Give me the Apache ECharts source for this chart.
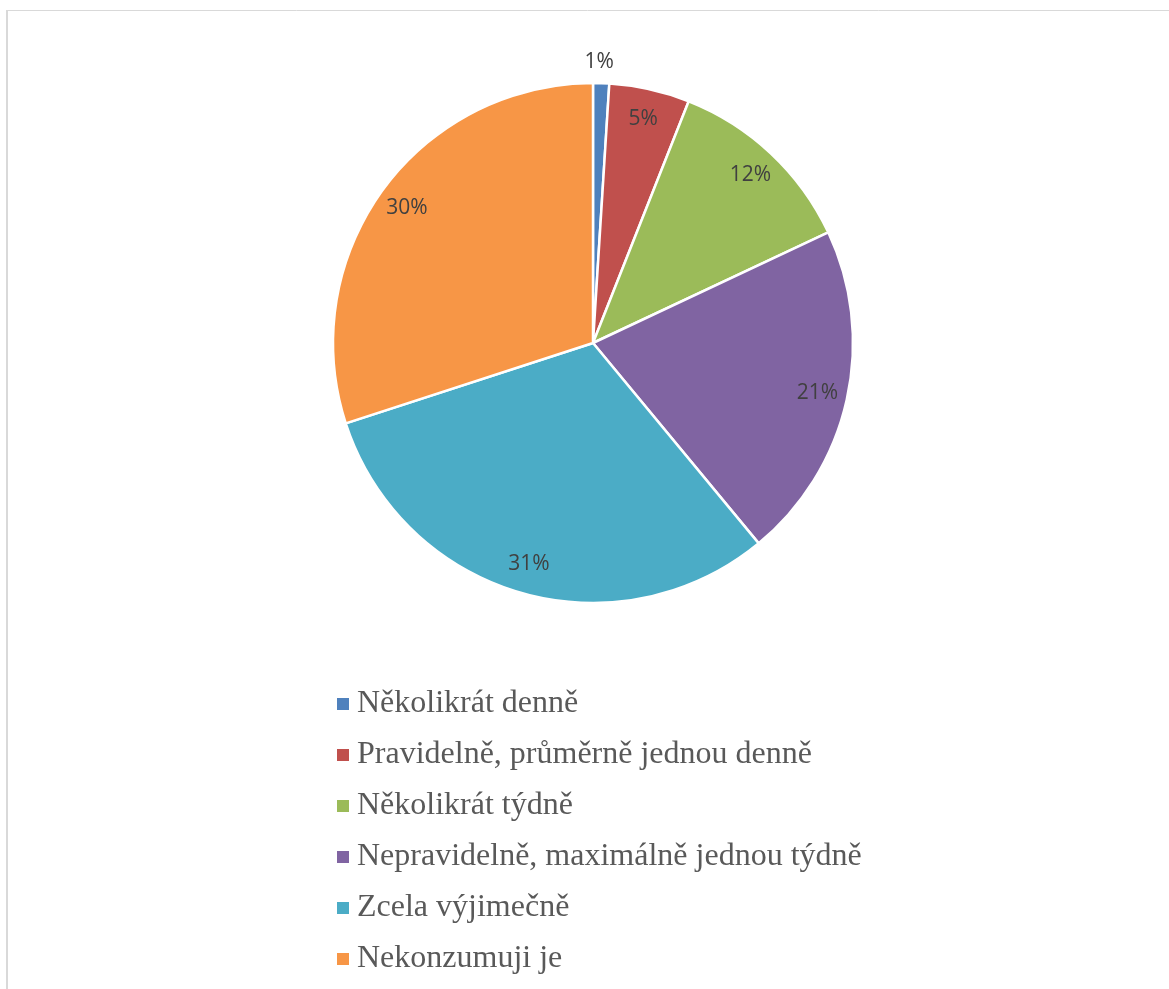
<!DOCTYPE html>
<html>
<head>
<meta charset="utf-8">
<title>Frekvence konzumace</title>
<script src="https://cdn.jsdelivr.net/npm/echarts@6/dist/echarts.min.js"></script>
<style>
  html, body { margin: 0; padding: 0; background: #ffffff; }
  #chart { width: 1169px; height: 989px; }
</style>
</head>
<body>
<div id="chart"></div>
<script>
// Answer categories and their shares (percent)
const categories = [
  'Několikrát denně',
  'Pravidelně, průměrně jednou denně',
  'Několikrát týdně',
  'Nepravidelně, maximálně jednou týdně',
  'Zcela výjimečně',
  'Nekonzumuji je'
];
const shares = [1, 5, 12, 21, 31, 30];
const colors = ['#4f81bd', '#c0504d', '#9bbb59', '#8064a2', '#4bacc6', '#f79646'];

const slices = categories.map((name, i) => ({ name, value: shares[i] }));

const chart = echarts.init(document.getElementById('chart'), null, { renderer: 'canvas' });

chart.setOption({
  animation: false,
  color: colors,
  graphic: [
    { type: 'line', shape: { x1: 6, y1: 10.5, x2: 1169, y2: 10.5 }, style: { stroke: '#d9d9d9', lineWidth: 1 } },
    { type: 'line', shape: { x1: 7, y1: 10, x2: 7, y2: 989 }, style: { stroke: '#d9d9d9', lineWidth: 2 } }
  ],
  legend: {
    orient: 'vertical',
    left: 332,
    top: 682,
    icon: 'rect',
    itemWidth: 12,
    itemHeight: 12,
    itemGap: 17,
    itemStyle: { borderWidth: 0 },
    data: categories,
    textStyle: {
      fontFamily: '"Liberation Serif", "Times New Roman", serif',
      fontSize: 32,
      lineHeight: 34,
      color: '#595959',
      padding: [0, 0, 0, 3]
    }
  },
  series: [
    {
      // filled slices
      type: 'pie',
      center: [593, 343],
      radius: [0, 260],
      startAngle: 90,
      clockwise: true,
      silent: true,
      label: { show: false },
      labelLine: { show: false },
      itemStyle: { borderColor: '#ffffff', borderWidth: 2.5 },
      data: slices
    },
    {
      // transparent ring used to place the percentage labels near the rim
      type: 'pie',
      center: [593, 343],
      radius: [196, 258],
      startAngle: 90,
      clockwise: true,
      silent: true,
      legendHoverLink: false,
      itemStyle: { color: 'rgba(0,0,0,0)', borderWidth: 0 },
      label: {
        show: true,
        position: 'inside',
        formatter: '{c}%',
        fontFamily: '"Open Sans", "Noto Sans", sans-serif',
        fontSize: 21,
        color: '#404040'
      },
      labelLine: { show: false },
      labelLayout: function (params) {
        // the thinnest slice gets its label above the rim
        if (params.dataIndex === 0) {
          return { dy: -51, dx: -1 };
        }
        return {};
      },
      data: slices
    }
  ]
});
</script>
</body>
</html>
